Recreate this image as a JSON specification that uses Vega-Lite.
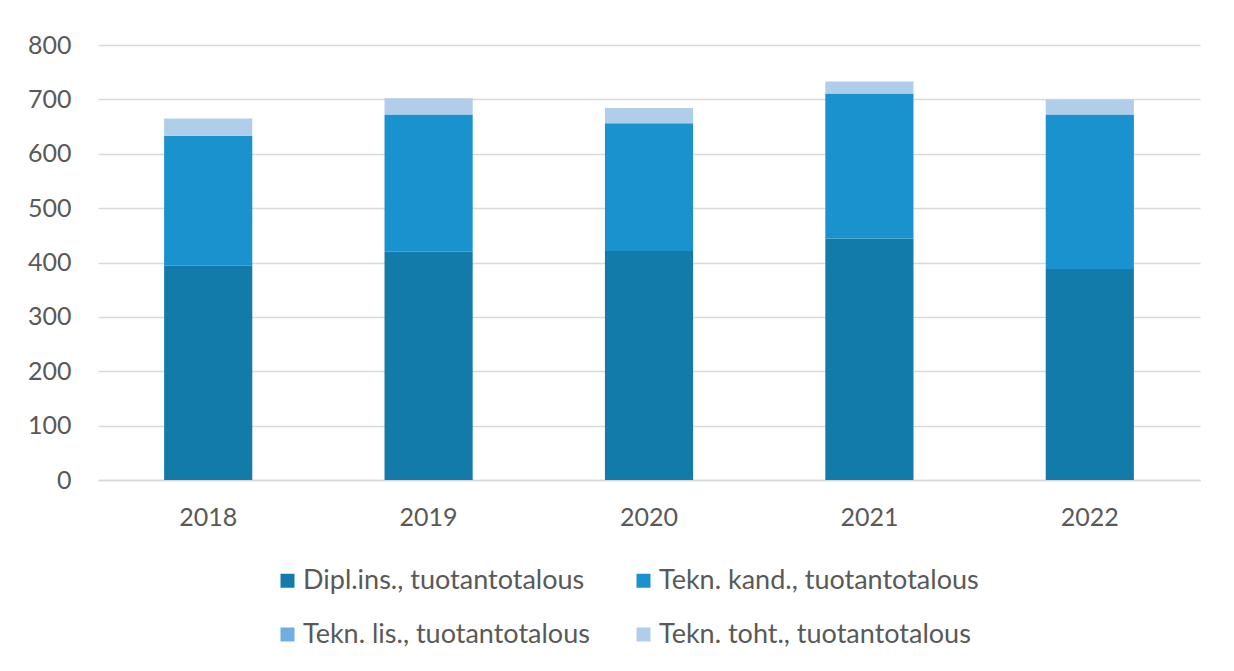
{
  "$schema": "https://vega.github.io/schema/vega-lite/v6.json",
  "width": 1102,
  "height": 435,
  "autosize": "none",
  "padding": {"left": 98, "top": 45, "right": 34, "bottom": 191},
  "background": "white",
  "data": {
    "values": [
      {"year": "2018", "series": "Dipl.ins., tuotantotalous", "o": 1, "value": 394},
      {"year": "2018", "series": "Tekn. kand., tuotantotalous", "o": 2, "value": 239},
      {"year": "2018", "series": "Tekn. lis., tuotantotalous", "o": 3, "value": 0},
      {"year": "2018", "series": "Tekn. toht., tuotantotalous", "o": 4, "value": 32},
      {"year": "2019", "series": "Dipl.ins., tuotantotalous", "o": 1, "value": 420},
      {"year": "2019", "series": "Tekn. kand., tuotantotalous", "o": 2, "value": 252},
      {"year": "2019", "series": "Tekn. lis., tuotantotalous", "o": 3, "value": 0},
      {"year": "2019", "series": "Tekn. toht., tuotantotalous", "o": 4, "value": 30},
      {"year": "2020", "series": "Dipl.ins., tuotantotalous", "o": 1, "value": 421},
      {"year": "2020", "series": "Tekn. kand., tuotantotalous", "o": 2, "value": 235},
      {"year": "2020", "series": "Tekn. lis., tuotantotalous", "o": 3, "value": 0},
      {"year": "2020", "series": "Tekn. toht., tuotantotalous", "o": 4, "value": 28},
      {"year": "2021", "series": "Dipl.ins., tuotantotalous", "o": 1, "value": 444},
      {"year": "2021", "series": "Tekn. kand., tuotantotalous", "o": 2, "value": 267},
      {"year": "2021", "series": "Tekn. lis., tuotantotalous", "o": 3, "value": 0},
      {"year": "2021", "series": "Tekn. toht., tuotantotalous", "o": 4, "value": 22},
      {"year": "2022", "series": "Dipl.ins., tuotantotalous", "o": 1, "value": 388},
      {"year": "2022", "series": "Tekn. kand., tuotantotalous", "o": 2, "value": 284},
      {"year": "2022", "series": "Tekn. lis., tuotantotalous", "o": 3, "value": 0},
      {"year": "2022", "series": "Tekn. toht., tuotantotalous", "o": 4, "value": 28}
    ]
  },
  "mark": {"type": "bar"},
  "encoding": {
    "x": {
      "field": "year", "type": "ordinal", "title": null,
      "scale": {"paddingInner": 0.6, "paddingOuter": 0.3},
      "axis": {"labelAngle": 0, "ticks": false, "domainColor": "#D9D9D9", "domainWidth": 1.5,
               "labelFont": "Lato", "labelFontSize": 25, "labelColor": "#595959", "labelPadding": 37, "labelBaseline": "middle"}
    },
    "y": {
      "field": "value", "type": "quantitative", "stack": "zero", "title": null,
      "scale": {"domain": [0, 800]},
      "axis": {"values": [0,100,200,300,400,500,600,700,800], "domain": false, "ticks": false,
               "gridColor": "#D9D9D9", "gridWidth": 1.5,
               "labelFont": "Lato", "labelFontSize": 25, "labelColor": "#595959", "labelPadding": 27}
    },
    "order": {"field": "o", "type": "quantitative"},
    "color": {
      "field": "series", "type": "nominal", "title": null,
      "scale": {
        "domain": ["Dipl.ins., tuotantotalous", "Tekn. kand., tuotantotalous", "Tekn. lis., tuotantotalous", "Tekn. toht., tuotantotalous"],
        "range": ["#127BAA", "#1A92CD", "#6FAEE0", "#B0CDEA"]
      },
      "legend": {
        "orient": "none", "legendX": 176, "legendY": 522, "columns": 2, "direction": "horizontal",
        "symbolType": "square", "symbolSize": 196, "symbolStrokeWidth": 0,
        "labelFont": "Lato", "labelFontSize": 27, "labelColor": "#595959",
        "columnPadding": 40, "rowPadding": 26, "labelLimit": 500, "labelOffset": 2
      }
    }
  },
  "config": {"view": {"stroke": null}}
}
